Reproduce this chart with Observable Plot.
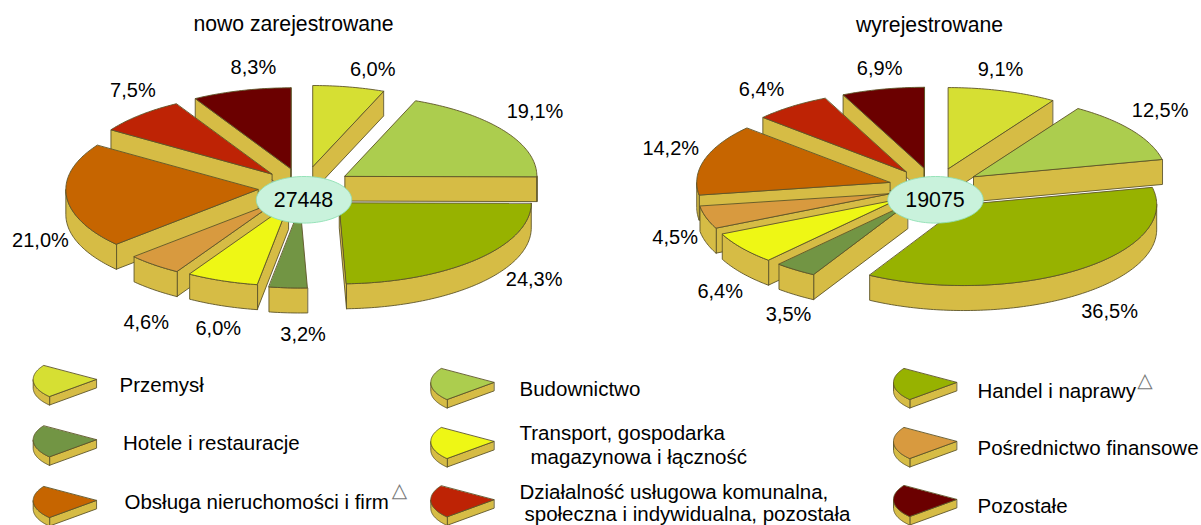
<!DOCTYPE html>
<html lang="pl">
<head>
<meta charset="utf-8">
<script src="https://cdn.jsdelivr.net/npm/d3@7"></script>
<script src="https://cdn.jsdelivr.net/npm/@observablehq/plot@0.6"></script>
<style>
html,body{margin:0;padding:0;background:#fff}
svg{display:block}
</style>
</head>
<body>
<div id="chart"></div>
<script>
const categories = ["Przemysł","Budownictwo","Handel i naprawy","Hotele i restauracje","Transport, gospodarka magazynowa i łączność","Pośrednictwo finansowe","Obsługa nieruchomości i firm","Działalność usługowa komunalna, społeczna i indywidualna, pozostała","Pozostałe"];
const colors = ["#D6DF33","#ACCD4E","#97B200","#729544","#EEF715","#D89A3F","#C66500","#BE2305","#6B0000"];
const newValues = [6.0,19.1,24.3,3.2,6.0,4.6,21.0,7.5,8.3];
const removedValues = [9.1,12.5,36.5,3.5,6.4,4.5,14.2,6.4,6.9];
const newTotal = 27448;
const removedTotal = 19075;
const titles = ["nowo zarejestrowane","wyrejestrowane"];

// layout
const W = 1201, H = 525, SIDE = "#D6BC45", EDGE = "#5E5528", FONT = "Liberation Sans, Arial, sans-serif";
const newExplode = [.27,.263,.263,.235,.22,.225,.236,.237,.245];
const removedExplode = [.25,.246,.254,.241,.243,.238,.242,.249,.249];
const newNudge = [[24,-17],[31,-19],[57,20],[15,47],[-4,48],[-8,58],[-26,44],[-7,-25],[12,-23]];
const removedNudge = [[-2,-21],[28,-20],[31,42],[-7,45],[-22,43],[-31,20],[-34,-11],[-30,-17],[-3,-21]];
const pieLayouts = [
  {values:newValues,explode:newExplode,nudge:newNudge,total:newTotal,cx:302.5,cy:187.5,rx:192,ry:81,depth:25,title:titles[0],titleX:293,titleY:24},
  {values:removedValues,explode:removedExplode,nudge:removedNudge,total:removedTotal,cx:934,cy:187.5,rx:193,ry:81,depth:25,title:titles[1],titleX:929,titleY:25}
];
const rad = d => d*Math.PI/180;

let polyId = 0;
const polys = [];
function addPoly(pts, fill, stroke=EDGE){
  const id = polyId++;
  pts.forEach(([x,y]) => polys.push({id,x,y,fill,stroke}));
}
function addSlice(ax, ay, a0, a1, rx, ry, depth, fill){
  const P = t => [ax+rx*Math.sin(rad(t)), ay-ry*Math.cos(rad(t))];
  const arc = (s,e) => d3.range(0, Math.ceil(e-s)+1).map(i => P(Math.min(s+i,e)));
  const down = ([x,y]) => [x,y+depth];
  const apex = [ax,ay];
  const start = P(a0), end = P(a1);
  if (start[0] < ax) addPoly([apex,start,down(start),down(apex)], SIDE);
  if (end[0] > ax) addPoly([end,apex,down(apex),down(end)], SIDE);
  const s = Math.max(a0,90), e = Math.min(a1,270);
  if (e > s){ const c = arc(s,e); addPoly([...c,...c.slice().reverse().map(down)], SIDE); }
  addPoly([apex,...arc(a0,a1)], fill);
}

const labels = [], titleTexts = [], totals = [];
for (const p of pieLayouts){
  let cum = 0;
  const slices = p.values.map((v,i) => {
    const a0 = cum*3.6; cum += v; const a1 = cum*3.6, m = (a0+a1)/2;
    const ax = p.cx + p.explode[i]*p.rx*Math.sin(rad(m));
    const ay = p.cy - p.explode[i]*p.ry*Math.cos(rad(m));
    labels.push({
      x: ax + p.rx*Math.sin(rad(m)) + p.nudge[i][0],
      y: ay - p.ry*Math.cos(rad(m)) + p.nudge[i][1],
      text: v.toFixed(1).replace(".",",")+"%"
    });
    return {a0,a1,ax,ay,fill:colors[i]};
  });
  slices.slice().sort((a,b)=>a.ay-b.ay).forEach(s => addSlice(s.ax,s.ay,s.a0,s.a1,p.rx,p.ry,p.depth,s.fill));
  const bx = p.cx+1, by = p.cy+11.8;
  addPoly(d3.range(0,360,3).map(t=>[bx+47.7*Math.sin(rad(t)),by+23.3*Math.cos(rad(t))]), "#C9F2DC", "#8FE0B3");
  totals.push({x:bx-0.5,y:by,text:String(p.total)});
  titleTexts.push({x:p.titleX,y:p.titleY,text:p.title});
}

// legend
const legendOrder = [0,3,6,1,4,7,2,5,8];
const swatchX = [95.7,95.7,95.7,493.3,493.3,493.3,956,956,956];
const swatchY = [379,439.3,500,382,441,499.3,382,441,499];
legendOrder.forEach((c,i) => addSlice(swatchX[i],swatchY[i],228,303,63,25.5,8.5,colors[c]));

const legendText = [
  ["Przemysł",119,385],["Hotele i restauracje",122.5,443],["Obsługa nieruchomości i firm",124,502],
  ["Budownictwo",519,389],["Transport, gospodarka",519,433],["magazynowa i łączność",530,457],
  ["Działalność usługowa komunalna,",519,492],["społeczna i indywidualna, pozostała",524,514],
  ["Handel i naprawy",977,391],["Pośrednictwo finansowe",977,448],["Pozostałe",977,506]
].map(([text,x,y])=>({text,x,y}));
const noteMarks = [{x:399,y:490},{x:1144.5,y:380}];

const chart = Plot.plot({
  width:W, height:H, margin:0,
  x:{axis:null,domain:[0,W],range:[0,W]},
  y:{axis:null,domain:[0,H],range:[0,H]},
  color:{type:"identity"},
  style:{background:"#fff",fontFamily:FONT},
  marks:[
    Plot.line(polys,{x:"x",y:"y",z:"id",fill:"fill",stroke:"stroke",strokeWidth:0.9,curve:"linear-closed",strokeLinejoin:"round"}),
    Plot.text(labels,{x:"x",y:"y",text:"text",fontSize:20,fill:"#000",textAnchor:"middle",fontFamily:FONT}),
    Plot.text(totals,{x:"x",y:"y",text:"text",fontSize:21.4,fill:"#000",textAnchor:"middle",fontFamily:FONT}),
    Plot.text(titleTexts,{x:"x",y:"y",text:"text",fontSize:21.2,fill:"#000",textAnchor:"middle",fontFamily:FONT}),
    Plot.text(legendText,{x:"x",y:"y",text:"text",fontSize:20.5,fill:"#000",textAnchor:"start",fontFamily:FONT}),
    Plot.text(noteMarks,{x:"x",y:"y",text:()=>"△",fontSize:20,fill:"#777",textAnchor:"middle",fontFamily:"DejaVu Sans"})
  ]
});
document.getElementById("chart").append(chart);
</script>
</body>
</html>
